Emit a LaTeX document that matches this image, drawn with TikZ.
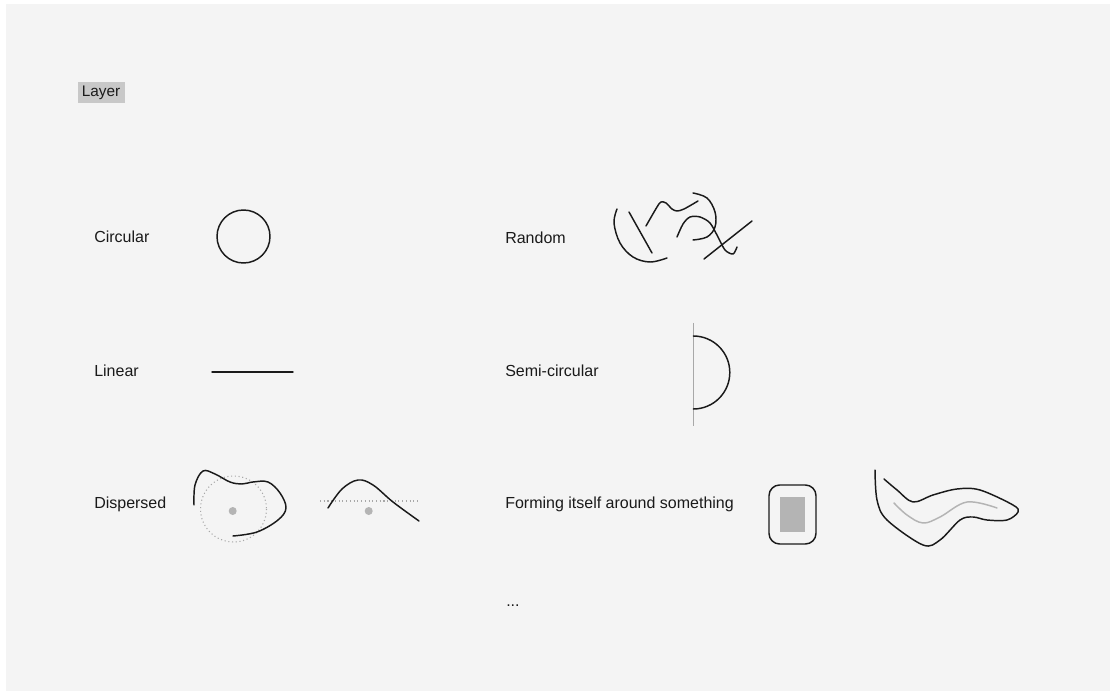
\documentclass[tikz,border=0pt]{standalone}
\usepackage{fontspec}
\setmainfont{Liberation Sans}
\definecolor{panel}{HTML}{F4F4F4}
\definecolor{ink}{HTML}{1A1A1A}
\definecolor{lgray}{HTML}{B4B4B4}
\definecolor{tagfill}{HTML}{C8C8C8}
\definecolor{dotg}{HTML}{A8A8A8}
\tikzset{
  lbl/.style={anchor=west, inner sep=0pt, font=\fontsize{12}{14}\selectfont, text=ink},
  ln/.style={draw=ink, line width=1.1pt, line cap=round, line join=round},
  gln/.style={draw=lgray, line width=1.1pt, line cap=round},
  dotc/.style={draw=dotg, line width=0.8pt, dotted},
}
\begin{document}
\begin{tikzpicture}[x=0.75pt,y=-0.75pt]
\useasboundingbox (0,0) rectangle (1116,691);
\fill[white] (0,0) rectangle (1116,691);
\fill[panel] (6,4) rectangle (1110,691);
% Layer tag
\fill[tagfill] (78,82) rectangle (125,103);
\node[lbl, anchor=center, font=\fontsize{11.5}{13}\selectfont] (layer) at (101,92.5) {Layer};
% labels
\node[lbl] (circular) at (94,237) {Circular};
\node[lbl] (linear) at (94,371) {Linear};
\node[lbl] (dispersed) at (94,504) {Dispersed};
\node[lbl] (random) at (505,238) {Random};
\node[lbl] (semi) at (505,371) {Semi-circular};
\node[lbl] (forming) at (505,504) {Forming itself around something};
\node[lbl] (dots) at (506,606) {...};
% circular
\draw[ln] (243.5,236.5) circle[radius=26.5];
% linear
\draw[ln] (212,372) -- (293,372);
% dispersed 1
\draw[dotc] (233.5,509) circle[radius=33];
\fill[lgray] (232.7,511) circle[radius=4];
\draw[ln] plot[smooth, tension=0.6] coordinates {(194,505) (195,485) (203,471) (215,474) (230,482) (242,484) (253,482) (268,482) (280,493) (286,508) (278,520) (257,532) (233,536)};
% dispersed 2
\draw[dotc] (320,501) -- (420,501);
\fill[lgray] (368.7,511) circle[radius=4];
\draw[ln] plot[smooth, tension=0.6] coordinates {(328,508) (342,489) (358,480) (373,485) (393,502) (419,521)};
% random
\draw[ln] plot[smooth, tension=0.6] coordinates {(617,209) (614,223) (620,243) (633,257) (650,262) (667,258)};
\draw[ln] (629,212) -- (652,253);
\draw[ln] plot[smooth, tension=0.5] coordinates {(646,226) (657,207) (661,202) (666,203) (672,209) (677,211) (684,209) (698,201)};
\draw[ln] plot[smooth, tension=0.6] coordinates {(693,193) (707,198) (715,212) (715,227) (707,237) (693,240)};
\draw[ln] plot[smooth, tension=0.5] coordinates {(677,237) (683,224) (690,217) (700,217) (710,223) (718,237) (725,250) (733,254) (737,247)};
\draw[ln] (704,259) -- (752,221);
% semi-circular
\draw[draw=dotg, line width=1pt] (693.3,323) -- (693.3,426);
\draw[ln] (693.3,336) arc[start angle=-90, end angle=90, radius=36.5];
% forming: rounded rect
\draw[ln, rounded corners=8] (769,485) rectangle (816,544);
\fill[lgray] (780,497) rectangle (805,532);
% forming: blob
\draw[ln] plot[smooth, tension=0.55] coordinates {(875,470) (877,500) (887,520) (923,545) (940,540) (960,520) (973,517) (987,520) (1007,520) (1018,512) (1013,505) (980,490) (957,489) (933,495) (913,502) (897,490) (884,479)};
\draw[gln] plot[smooth, tension=0.6] coordinates {(894,503) (907,515) (923,523) (940,517) (967,502) (997,508)};
\end{tikzpicture}
\end{document}
